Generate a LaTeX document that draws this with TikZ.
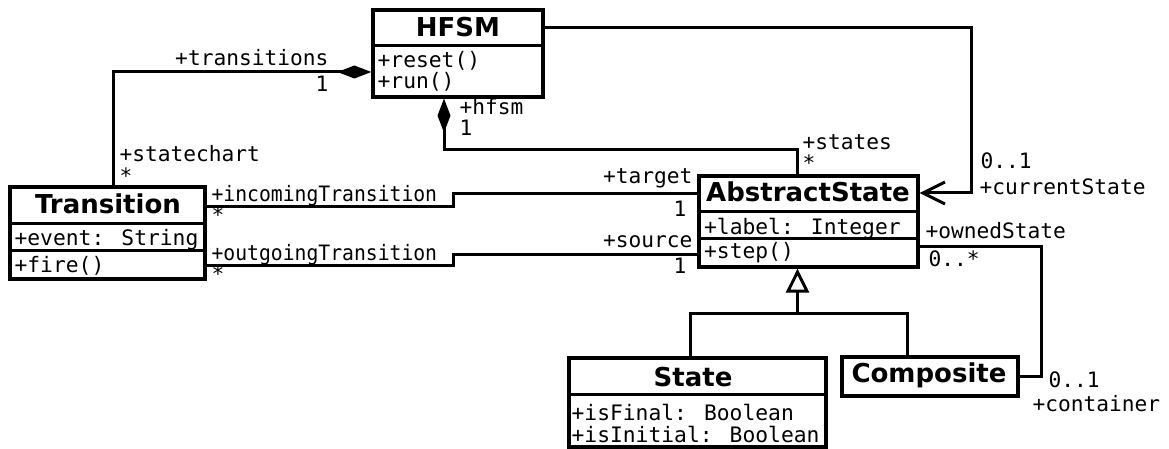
\documentclass[tikz,border=0pt]{standalone}
\usepackage{fontspec}
\setmainfont{DejaVu Sans}
\newfontfamily\monof{DejaVu Sans Mono}
\usetikzlibrary{arrows.meta}
\begin{document}
\begin{tikzpicture}[x=1pt,y=-1pt,line width=3.2pt,
  cls/.style={draw,rectangle,inner sep=0pt,line width=3.2pt},
  ttl/.style={anchor=base,inner sep=0pt,font=\fontsize{26}{26}\selectfont\bfseries},
  attr/.style={anchor=base west,inner sep=0pt,font=\fontsize{21.3}{21.3}\selectfont\monof},
  lbl/.style={anchor=base west,inner sep=0pt,font=\fontsize{21.2}{21.2}\selectfont\monof},
  lble/.style={anchor=base east,inner sep=0pt,font=\fontsize{21.2}{21.2}\selectfont\monof},
  conn/.style={line width=3pt},
  comp/.style={conn,{Diamond[length=34pt,width=13pt]}-},
  nav/.style={conn,-{Straight Barb[length=22pt,width=22pt]}},
  gen/.style={conn,{Triangle[length=24pt,width=23pt,fill=white]}-},
]
\useasboundingbox (0,0) rectangle (1169,449);
% classes
\node[cls,minimum width=170pt,minimum height=87pt] (hfsm) at (458,53.5) {};
\node[cls,minimum width=195pt,minimum height=92pt] (trans) at (107.5,233) {};
\node[cls,minimum width=219pt,minimum height=91pt] (abs) at (808.5,221.5) {};
\node[cls,minimum width=257pt,minimum height=89pt] (state) at (697.5,402.5) {};
\node[cls,minimum width=176pt,minimum height=39pt] (comp) at (930,376.5) {};
% compartments
\draw ([yshift=-37pt]hfsm.north west) -- ([yshift=-37pt]hfsm.north east);
\draw ([yshift=-38pt]trans.north west) -- ([yshift=-38pt]trans.north east);
\draw ([yshift=-65pt]trans.north west) -- ([yshift=-65pt]trans.north east);
\draw ([yshift=-37pt]abs.north west) -- ([yshift=-37pt]abs.north east);
\draw ([yshift=-64pt]abs.north west) -- ([yshift=-64pt]abs.north east);
\draw ([yshift=-38pt]state.north west) -- ([yshift=-38pt]state.north east);
% titles
\node[ttl] (thfsm) at (458,37) {HFSM};
\node[ttl] (ttrans) at (108,213) {Transition};
\node[ttl] (tabs) at (808,201.5) {AbstractState};
\node[ttl] (tstate) at (693,386) {State};
\node[ttl] (tcomp) at (929,382) {Composite};
% members
\node[attr] (a1) at (376,68) {+reset()};
\node[attr] (a2) at (376,89) {+run()};
\node[attr] (a3) at (13,245) {+event: String};
\node[attr] (a4) at (13,272) {+fire()};
\node[attr] (a5) at (702.5,234.5) {+label: Integer};
\node[attr] (a6) at (702.5,258) {+step()};
\node[attr] (a7) at (570,420) {+isFinal: Boolean};
\node[attr] (a8) at (570,442) {+isInitial: Boolean};
% connectors
\draw[comp] ([yshift=-18.5pt]hfsm.west) -| ([xshift=5.5pt]trans.north);
\draw[comp] ([xshift=-14pt]hfsm.south) -- ++(0,51) -| ([xshift=-11pt]abs.north);
\draw[nav] ([yshift=25.5pt]hfsm.east) -- ++(427,0) |- ([yshift=28.5pt]abs.east);
\draw[conn] ([yshift=27pt]trans.east) -- ++(246.7,0) |- ([yshift=27.5pt]abs.west);
\draw[conn] ([yshift=-32.5pt]trans.east) -- ++(246.7,0) |- ([yshift=-32.5pt]abs.west);
\draw[conn] ([yshift=-24.5pt]abs.east) -- ++(122,0) |- (comp.east);
\draw[gen] ([xshift=-11pt]abs.south) -- ++(0,45) coordinate (gj);
\draw[conn] (gj) -| ([xshift=-7.5pt]state.north);
\draw[conn] (gj) -| ([xshift=-23pt]comp.north);
% role labels
\node[lble] (l1) at (330,66) {+transitions};
\node[lble] (l2) at (330,92) {1};
\node[lbl] (l3) at (118,162) {+statechart};
\node[lbl] (l4) at (118,183) {*};
\node[lbl] (l5) at (458,114.5) {+hfsm};
\node[lbl] (l6) at (458,136) {1};
\node[lbl] (l7) at (801,150) {+states};
\node[lbl] (l8) at (801,171) {*};
\node[lbl] (l9) at (979,169) {0..1};
\node[lbl] (l10) at (978,194) {+currentState};
\node[lbl] (l11) at (210,201.7) {\scalebox{0.93}[1]{+incomingTransition}};
\node[lbl] (l12) at (210,222.5) {*};
\node[lbl] (l13) at (210,260) {\scalebox{0.93}[1]{+outgoingTransition}};
\node[lbl] (l14) at (210,281) {*};
\node[lble] (l15) at (694,184) {+target};
\node[lble] (l16) at (688,216) {1};
\node[lble] (l17) at (694,247.7) {+source};
\node[lble] (l18) at (688,273) {1};
\node[lbl] (l19) at (924,238.3) {+ownedState};
\node[lbl] (l20) at (927,266.7) {0..*};
\node[lbl] (l21) at (1047,387) {0..1};
\node[lbl] (l22) at (1031,411.7) {+container};
\end{tikzpicture}
\end{document}
